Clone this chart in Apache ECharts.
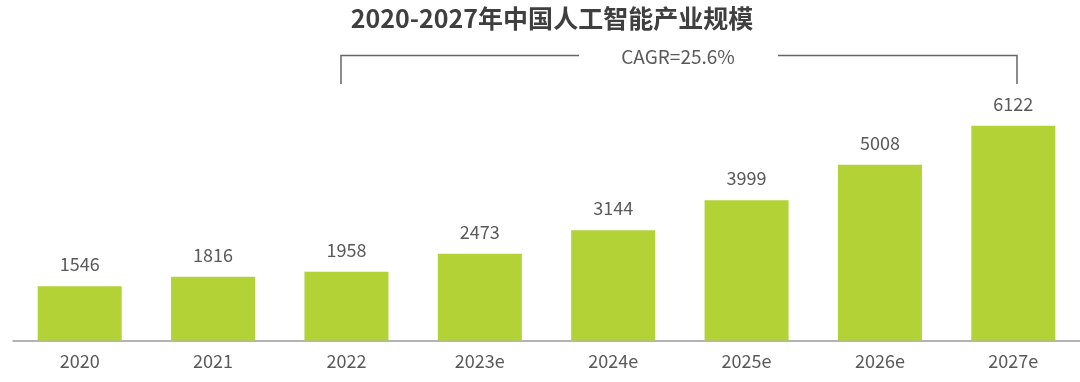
<!DOCTYPE html>
<html>
<head>
<meta charset="utf-8">
<script src="https://cdn.jsdelivr.net/npm/echarts@6/dist/echarts.min.js"></script>
<style>
html,body{margin:0;padding:0;background:#fff;}
#main{width:1080px;height:382px;}
</style>
</head>
<body>
<div id="main"></div>
<script>
var categories = ['2020','2021','2022','2023e','2024e','2025e','2026e','2027e'];
var values = [1546,1816,1958,2473,3144,3999,5008,6122];
var titleText = '2020-2027年中国人工智能产业规模';
var cagrText = 'CAGR=25.6%';

var chart = echarts.init(document.getElementById('main'));
var font = '"Noto Sans CJK SC","Noto Sans",sans-serif';
chart.setOption({
  backgroundColor:'#fff',
  animation:false,
  title:{
    text:titleText,
    left:547, top:1,
    textAlign:'center',
    textStyle:{fontFamily:font,fontSize:25,fontWeight:'bold',color:'#3f3f3f'}
  },
  grid:{left:13,width:1072,top:95,bottom:41.5,containLabel:false},
  xAxis:{
    type:'category',
    data:categories,
    axisTick:{show:false},
    axisLine:{lineStyle:{color:'#9a9a9a',width:1.5}},
    axisLabel:{fontFamily:font,fontSize:18,color:'#595959',margin:12}
  },
  yAxis:{type:'value',min:0,max:7000,show:false,splitLine:{show:false}},
  series:[{
    type:'bar',
    data:values,
    barWidth:84,
    itemStyle:{color:'#b2d235'},
    label:{show:true,position:'top',distance:13,fontFamily:font,fontSize:18,color:'#595959'}
  }],
  graphic:[
    {type:'polyline',shape:{points:[[341,84],[341,55.5],[579,55.5]]},style:{stroke:'#666',lineWidth:1.5,fill:null}},
    {type:'polyline',shape:{points:[[778,55.5],[1017,55.5],[1017,84]]},style:{stroke:'#666',lineWidth:1.5,fill:null}},
    {type:'text',x:678,y:57,style:{text:cagrText,fontFamily:font,fontSize:19,fill:'#595959',textAlign:'center',textVerticalAlign:'middle'}}
  ]
});
</script>
</body>
</html>
